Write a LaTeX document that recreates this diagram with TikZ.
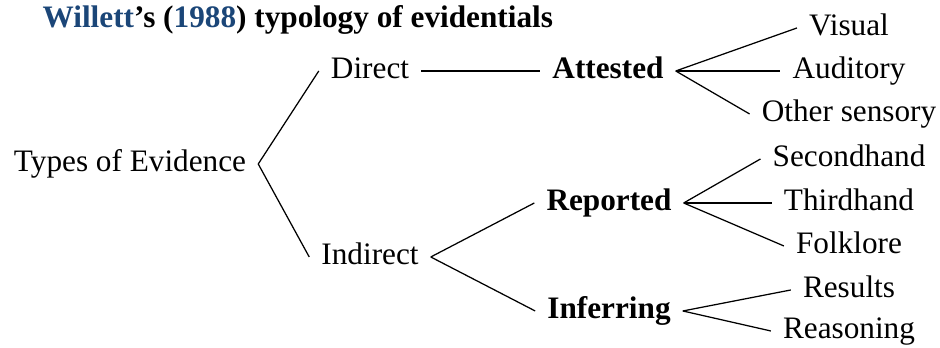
\documentclass[tikz,border=0pt]{standalone}
\usepackage{fontspec}
\setmainfont{Liberation Serif}
\definecolor{citeblue}{HTML}{1B4678}

\begin{document}
\begin{tikzpicture}[x=0.32pt,y=0.32pt,
		word/.style={inner xsep=3.7pt,inner ysep=0pt,text height=0.7em,text depth=0.25em,anchor=base},
		branch/.style={line width=0.4pt}]

		\useasboundingbox (0,0) rectangle (940,347);

		\node[inner sep=0pt,anchor=base west,font=\bfseries] (title) at (42,320)
			{\textcolor{citeblue}{Willett}'s (\textcolor{citeblue}{1988}) typology of evidentials};

		\node[word] (types) at (130,176) {Types of Evidence};

		\node[word] (direct) at (370,269) {Direct};
		\node[word] (indirect) at (370,83) {Indirect};

		\node[word,font=\bfseries] (attested) at (608,269) {Attested};
		\node[word,font=\bfseries] (reported) at (609,137) {Reported};
		\node[word,font=\bfseries] (inferring) at (609,29) {Inferring};

		\node[word] (visual) at (849,312) {Visual};
		\node[word] (auditory) at (849,269) {Auditory};
		\node[word] (sensory) at (849,226) {Other sensory};
		\node[word] (second) at (849,181) {Secondhand};
		\node[word] (third) at (849,137) {Thirdhand};
		\node[word] (folklore) at (849,94) {Folklore};
		\node[word] (results) at (849,50) {Results};
		\node[word] (reasoning) at (849,9) {Reasoning};

		\draw[branch] (types.east) -- (direct.west);
		\draw[branch] (types.east) -- (indirect.west);

		\draw[branch] (direct.east) -- (attested.west);
		\draw[branch] (indirect.east) -- (reported.west);
		\draw[branch] (indirect.east) -- (inferring.west);

		\draw[branch] (attested.east) -- (visual.west);
		\draw[branch] (attested.east) -- (auditory.west);
		\draw[branch] (attested.east) -- (sensory.west);

		\draw[branch] (reported.east) -- (second.west);
		\draw[branch] (reported.east) -- (third.west);
		\draw[branch] (reported.east) -- (folklore.west);

		\draw[branch] (inferring.east) -- (results.west);
		\draw[branch] (inferring.east) -- (reasoning.west);

	\end{tikzpicture}
\end{document}
